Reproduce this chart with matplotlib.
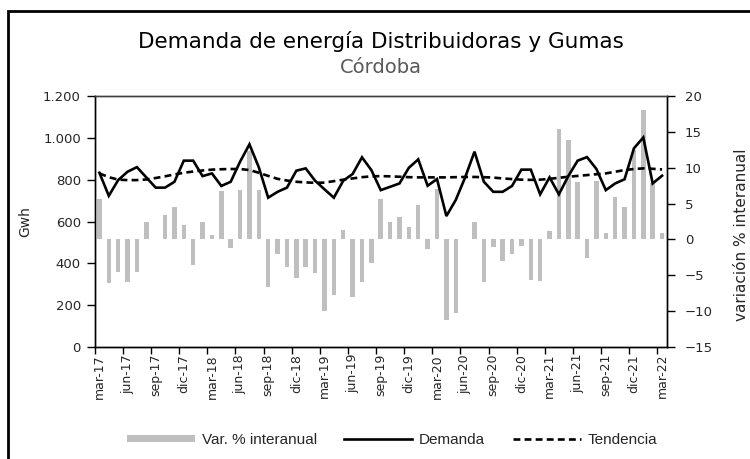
import matplotlib
matplotlib.use("Agg")
import matplotlib.pyplot as plt
from matplotlib.lines import Line2D
from matplotlib.patches import Patch, Rectangle
import numpy as np

months_es = ["ene", "feb", "mar", "abr", "may", "jun", "jul", "ago", "sep", "oct", "nov", "dic"]
categories = []
m, y = 2, 17  # start mar-17 (month index 2)
for _ in range(61):
    categories.append(f"{months_es[m]}-{y}")
    m += 1
    if m == 12:
        m = 0
        y += 1

demanda = [833, 723, 798, 838, 860, 811, 762, 762, 790, 891, 891, 817, 830, 770, 790,
           886, 969, 859, 714, 742, 762, 843, 854, 795, 754, 714, 795, 827, 907, 846, 750,
           766, 782, 857, 897, 771, 803, 626, 703, 811, 934, 790, 742, 742, 770, 848,
           848, 730, 811, 730, 817, 891, 908, 851, 750, 782, 802, 950, 1002, 782, 819]

tendencia = [830, 812, 800, 798, 798, 801, 808, 816, 825, 833, 839, 844, 848, 850, 851,
             851, 846, 833, 818, 804, 796, 790, 787, 785, 786, 793, 800, 806, 812, 816, 817,
             816, 814, 812, 811, 811, 811, 811, 812, 813, 813, 812, 810, 806, 803, 800,
             799, 800, 804, 809, 814, 818, 822, 826, 830, 838, 846, 851, 854, 852, 849]

var_interanual = [5.7, -6.1, -4.5, -5.9, -4.5, 2.4, 0.1, 3.4, 4.5, 2.0, -3.6, 2.4, 0.65, 6.7, -1.2,
                  6.9, 12.3, 6.9, -6.6, -2.0, -3.8, -5.4, -3.8, -4.7, -10.0, -7.8, 1.3, -8.0, -5.9, -3.3, 5.7,
                  2.5, 3.1, 1.7, 4.8, -1.4, 7.1, -11.2, -10.2, 0.05, 2.5, -5.9, -1.1, -3.0, -2.0, -0.9,
                  -5.6, -5.8, 1.2, 15.4, 13.9, 8.0, -2.65, 8.1, 0.84, 5.9, 4.5, 12.5, 18.1, 7.9, 0.93]

left_ticks = [0, 200, 400, 600, 800, 1000, 1200]
left_ticklabels = ["0", "200", "400", "600", "800", "1.000", "1.200"]
right_ticks = [-15, -10, -5, 0, 5, 10, 15, 20]

plt.rcParams["font.family"] = ["DejaVu Sans"]
NARROW = ["Liberation Sans", "DejaVu Sans"]
TXT = "#262626"

fig = plt.figure(figsize=(7.5, 4.59), dpi=100)
ax = fig.add_axes([0.1263, 0.244, 0.7627, 0.5468])
ax2 = ax.twinx()

x = np.arange(len(categories))
bar_color = "#BFBFBF"
ax2.bar(x, var_interanual, width=0.48, color=bar_color, zorder=1)
ax.plot(x, demanda, color="black", lw=1.9, zorder=3, solid_joinstyle="miter")
ax.plot(x, tendencia, color="black", lw=1.9, ls=(0, (2.6, 1.6)), zorder=2)

ax.set_zorder(ax2.get_zorder() + 1)
ax.patch.set_visible(False)

ax.set_xlim(-0.5, len(categories) - 0.5)
ax.set_ylim(0, 1200)
ax2.set_ylim(-15, 20)

ax.set_yticks(left_ticks)
ax.set_yticklabels(left_ticklabels)
ax2.set_yticks(right_ticks)

label_idx = list(range(0, len(categories), 3))
ax.set_xticks(label_idx)
ax.set_xticklabels([categories[i] for i in label_idx], rotation=90, fontsize=9, color=TXT)
ax.tick_params(axis="x", which="major", length=0, pad=5)
ax.set_xticks([i - 0.5 for i in label_idx], minor=True)
ax.tick_params(axis="x", which="minor", length=5, width=1, direction="out", color="black")

ax.tick_params(axis="y", length=6, width=1, direction="out", labelsize=9.5, labelcolor=TXT,
               color="black", pad=4)
ax2.tick_params(axis="y", length=6, width=1, direction="out", labelsize=9.5, labelcolor=TXT,
                color="black", pad=7)

for a in (ax, ax2):
    for s in a.spines.values():
        s.set_color("black")
        s.set_linewidth(1.0)
ax.spines["top"].set_color("#404040")
ax2.spines["top"].set_color("#404040")

ax.set_ylabel("Gwh", fontsize=10, color=TXT, labelpad=8)
fig.text(741 / 750, 1 - 235 / 459, "variación % interanual", rotation=90, ha="center", va="center",
         fontsize=11, color=TXT)

fig.text(0.508, 0.9085, "Demanda de energía Distribuidoras y Gumas", ha="center", va="center",
         fontsize=15.5, color="black")
fig.text(0.508, 0.852, "Córdoba", ha="center", va="center", fontsize=14, color="#595959")

handles = [Patch(facecolor=bar_color, edgecolor="none"),
           Line2D([0], [0], color="black", lw=1.9),
           Line2D([0], [0], color="black", lw=1.9, ls=(0, (2.6, 1.6)))]
labels = ["Var. % interanual", "Demanda", "Tendencia"]
fig.legend(handles, labels, loc="center", bbox_to_anchor=(392 / 750, 1 - 440 / 459), ncol=3,
           frameon=False, prop={"family": NARROW, "size": 11}, handlelength=4.45, handleheight=0.4,
           handletextpad=0.45, columnspacing=1.8, labelcolor=TXT)

# outer frame
fig.patches.append(Rectangle((8 / 750, -0.1), 1.2, 1.1 - 11 / 459, transform=fig.transFigure,
                             fill=False, edgecolor="black", lw=2.0))

fig.savefig("out.png", dpi=100, facecolor="white")
